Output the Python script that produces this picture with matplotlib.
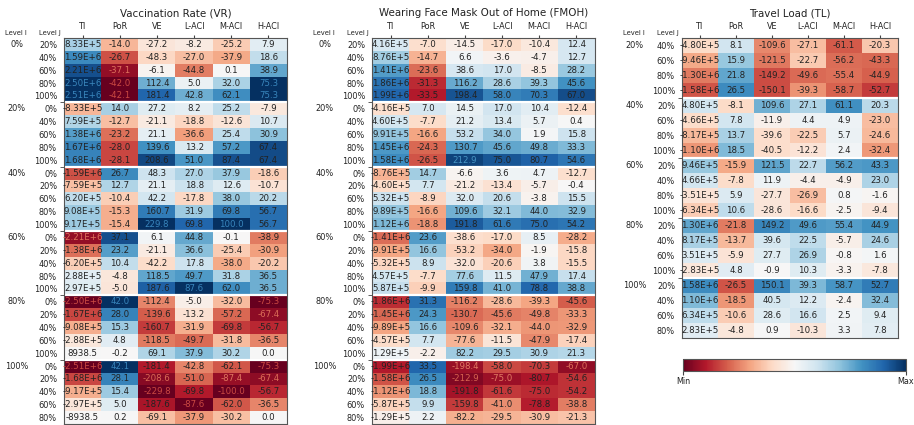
import numpy as np
import matplotlib
matplotlib.use("Agg")
import matplotlib.pyplot as plt
from matplotlib.colors import Normalize
from matplotlib.cm import ScalarMappable

metrics = ["TI", "PoR", "VE", "L-ACI", "M-ACI", "H-ACI"]
levels = ["0%", "20%", "40%", "60%", "80%", "100%"]
tl_levels = ["20%", "40%", "60%", "80%", "100%"]

# Vaccination Rate (VR): rows go level I group by group, level J inside
vr_ti = [8.33e5, 1.59e6, 2.21e6, 2.50e6, 2.51e6,
         -8.33e5, 7.59e5, 1.38e6, 1.67e6, 1.68e6,
         -1.59e6, -7.59e5, 6.20e5, 9.08e5, 9.17e5,
         -2.21e6, -1.38e6, -6.20e5, 2.88e5, 2.97e5,
         -2.50e6, -1.67e6, -9.08e5, -2.88e5, 8938.5,
         -2.51e6, -1.68e6, -9.17e5, -2.97e5, -8938.5]
vr_por = [-14.0, -26.7, -37.1, -42.0, -42.1,
          14.0, -12.7, -23.2, -28.0, -28.1,
          26.7, 12.7, -10.4, -15.3, -15.4,
          37.1, 23.2, 10.4, -4.8, -5.0,
          42.0, 28.0, 15.3, 4.8, -0.2,
          42.1, 28.1, 15.4, 5.0, 0.2]
vr_ve = [-27.2, -48.3, -6.1, 112.4, 181.4,
         27.2, -21.1, 21.1, 139.6, 208.6,
         48.3, 21.1, 42.2, 160.7, 229.8,
         6.1, -21.1, -42.2, 118.5, 187.6,
         -112.4, -139.6, -160.7, -118.5, 69.1,
         -181.4, -208.6, -229.8, -187.6, -69.1]
vr_laci = [-8.2, -27.0, -44.8, 5.0, 42.8,
           8.2, -18.8, -36.6, 13.2, 51.0,
           27.0, 18.8, -17.8, 31.9, 69.8,
           44.8, 36.6, 17.8, 49.7, 87.6,
           -5.0, -13.2, -31.9, -49.7, 37.9,
           -42.8, -51.0, -69.8, -87.6, -37.9]
vr_maci = [-25.2, -37.9, 0.1, 32.0, 62.1,
           25.2, -12.6, 25.4, 57.2, 87.4,
           37.9, 12.6, 38.0, 69.8, 100.0,
           -0.1, -25.4, -38.0, 31.8, 62.0,
           -32.0, -57.2, -69.8, -31.8, 30.2,
           -62.1, -87.4, -100.0, -62.0, -30.2]
vr_haci = [7.9, 18.6, 38.9, 75.3, 75.3,
           -7.9, 10.7, 30.9, 67.4, 67.4,
           -18.6, -10.7, 20.2, 56.7, 56.7,
           -38.9, -30.9, -20.2, 36.5, 36.5,
           -75.3, -67.4, -56.7, -36.5, 0.0,
           -75.3, -67.4, -56.7, -36.5, 0.0]

# Wearing Face Mask Out of Home (FMOH)
fm_ti = [4.16e5, 8.76e5, 1.41e6, 1.86e6, 1.99e6,
         -4.16e5, 4.60e5, 9.91e5, 1.45e6, 1.58e6,
         -8.76e5, -4.60e5, 5.32e5, 9.89e5, 1.12e6,
         -1.41e6, -9.91e5, -5.32e5, 4.57e5, 5.87e5,
         -1.86e6, -1.45e6, -9.89e5, -4.57e5, 1.29e5,
         -1.99e6, -1.58e6, -1.12e6, -5.87e5, -1.29e5]
fm_por = [-7.0, -14.7, -23.6, -31.3, -33.5,
          7.0, -7.7, -16.6, -24.3, -26.5,
          14.7, 7.7, -8.9, -16.6, -18.8,
          23.6, 16.6, 8.9, -7.7, -9.9,
          31.3, 24.3, 16.6, 7.7, -2.2,
          33.5, 26.5, 18.8, 9.9, 2.2]
fm_ve = [-14.5, 6.6, 38.6, 116.2, 198.4,
         14.5, 21.2, 53.2, 130.7, 212.9,
         -6.6, -21.2, 32.0, 109.6, 191.8,
         -38.6, -53.2, -32.0, 77.6, 159.8,
         -116.2, -130.7, -109.6, -77.6, 82.2,
         -198.4, -212.9, -191.8, -159.8, -82.2]
fm_laci = [-17.0, -3.6, 17.0, 28.6, 58.0,
           17.0, 13.4, 34.0, 45.6, 75.0,
           3.6, -13.4, 20.6, 32.1, 61.6,
           -17.0, -34.0, -20.6, 11.5, 41.0,
           -28.6, -45.6, -32.1, -11.5, 29.5,
           -58.0, -75.0, -61.6, -41.0, -29.5]
fm_maci = [-10.4, -4.7, -8.5, 39.3, 70.3,
           10.4, 5.7, 1.9, 49.8, 80.7,
           4.7, -5.7, -3.8, 44.0, 75.0,
           8.5, -1.9, 3.8, 47.9, 78.8,
           -39.3, -49.8, -44.0, -47.9, 30.9,
           -70.3, -80.7, -75.0, -78.8, -30.9]
fm_haci = [12.4, 12.7, 28.2, 45.6, 67.0,
           -12.4, 0.4, 15.8, 33.3, 54.6,
           -12.7, -0.4, 15.5, 32.9, 54.2,
           -28.2, -15.8, -15.5, 17.4, 38.8,
           -45.6, -33.3, -32.9, -17.4, 21.3,
           -67.0, -54.6, -54.2, -38.8, -21.3]

# Travel Load (TL)
tl_ti = [-4.80e5, -9.46e5, -1.30e6, -1.58e6,
         4.80e5, -4.66e5, -8.17e5, -1.10e6,
         9.46e5, 4.66e5, -3.51e5, -6.34e5,
         1.30e6, 8.17e5, 3.51e5, -2.83e5,
         1.58e6, 1.10e6, 6.34e5, 2.83e5]
tl_por = [8.1, 15.9, 21.8, 26.5,
          -8.1, 7.8, 13.7, 18.5,
          -15.9, -7.8, 5.9, 10.6,
          -21.8, -13.7, -5.9, 4.8,
          -26.5, -18.5, -10.6, -4.8]
tl_ve = [-109.6, -121.5, -149.2, -150.1,
         109.6, -11.9, -39.6, -40.5,
         121.5, 11.9, -27.7, -28.6,
         149.2, 39.6, 27.7, -0.9,
         150.1, 40.5, 28.6, 0.9]
tl_laci = [-27.1, -22.7, -49.6, -39.3,
           27.1, 4.4, -22.5, -12.2,
           22.7, -4.4, -26.9, -16.6,
           49.6, 22.5, 26.9, 10.3,
           39.3, 12.2, 16.6, -10.3]
tl_maci = [-61.1, -56.2, -55.4, -58.7,
           61.1, 4.9, 5.7, 2.4,
           56.2, -4.9, 0.8, -2.5,
           55.4, -5.7, -0.8, -3.3,
           58.7, -2.4, 2.5, 3.3]
tl_haci = [-20.3, -43.3, -44.9, -52.7,
           20.3, -23.0, -24.6, -32.4,
           43.3, 23.0, -1.6, -9.4,
           44.9, 24.6, 1.6, -7.8,
           52.7, 32.4, 9.4, 7.8]

vr = np.column_stack([vr_ti, vr_por, vr_ve, vr_laci, vr_maci, vr_haci])
fm = np.column_stack([fm_ti, fm_por, fm_ve, fm_laci, fm_maci, fm_haci])
tl = np.column_stack([tl_ti, tl_por, tl_ve, tl_laci, tl_maci, tl_haci])

# each metric gets its own colour scale, shared by the three factors
allv = np.vstack([vr, fm, tl])
col_lo = allv.min(axis=0)
col_hi = allv.max(axis=0)

cmap = plt.get_cmap("RdBu")
W, H = 914, 425
fig = plt.figure(figsize=(W / 100, H / 100), dpi=100)


def px_axes(x0, y0, w, h):
    return fig.add_axes([x0 / W, 1 - (y0 + h) / H, w / W, h / H])


def fmt(v, j):
    if j == 0 and abs(v) >= 1e5:
        m, e = f"{v:.2E}".split("E")
        return f"{m}E{int(e):+d}"
    return f"{v:.1f}"


def draw_panel(ax, title, data, group_levels, all_levels):
    groups = [(gi, [lj for lj in all_levels if lj != gi]) for gi in group_levels]
    rows = [lj for _, js in groups for lj in js]
    gsize = len(groups[0][1])
    n = len(rows)

    z = (data - col_lo) / (col_hi - col_lo)
    ax.imshow(z, cmap=cmap, vmin=0, vmax=1, aspect="auto", interpolation="nearest")

    for i in range(n):
        for j in range(data.shape[1]):
            c = cmap(z[i, j])
            lum = 0.299 * c[0] + 0.587 * c[1] + 0.114 * c[2]
            if lum < 0.24:
                tc = cmap(z[i, j] + 0.17 if z[i, j] < 0.5 else z[i, j] - 0.17)
            else:
                tc = "#222222"
            ax.text(j, i, fmt(data[i, j], j), ha="center", va="center",
                    fontsize=6.2, color=tc)

    for k in range(1, len(groups)):
        ax.axhline(k * gsize - 0.5, color="white", lw=1.6)

    ax.set_xticks(range(len(metrics)))
    ax.set_xticklabels(metrics)
    ax.xaxis.tick_top()
    ax.tick_params(axis="x", length=2, pad=3, labelsize=5.9, color="#444444",
                   labelcolor="#222222")
    ax.set_yticks(range(n))
    ax.set_yticklabels(rows)
    ax.tick_params(axis="y", length=0, pad=5, labelsize=5.9, labelcolor="#222222")
    ax.set_yticks([k * gsize - 0.5 for k in range(1, len(groups))], minor=True)
    ax.tick_params(axis="y", which="minor", length=3, color="#444444")
    for s in ax.spines.values():
        s.set_edgecolor("#555555")
        s.set_linewidth(0.8)

    for k, (gi, _) in enumerate(groups):
        ax.annotate(gi, xy=(0, k * gsize), xycoords=("axes fraction", "data"),
                    xytext=(-34, 0), textcoords="offset points",
                    ha="center", va="center", fontsize=5.9, color="#222222")
    ax.annotate("Level I", xy=(0, 1), xycoords="axes fraction", xytext=(-35, 3.6),
                textcoords="offset points", ha="center", va="center",
                fontsize=4.9, color="#222222")
    ax.annotate("Level J", xy=(0, 1), xycoords="axes fraction", xytext=(-10, 3.6),
                textcoords="offset points", ha="center", va="center",
                fontsize=4.9, color="#222222")
    ax.set_title(title, fontsize=7.4, y=1.0, pad=15.5, color="#222222")


ax1 = px_axes(64, 38, 223, 386)
draw_panel(ax1, "Vaccination Rate (VR)", vr, levels, levels)

ax2 = px_axes(372, 38, 223, 386)
draw_panel(ax2, "Wearing Face Mask Out of Home (FMOH)", fm, levels, levels)

ax3 = px_axes(682, 38, 216, 300)
draw_panel(ax3, "Travel Load (TL)", tl, tl_levels, tl_levels)

cax = px_axes(683, 359, 223, 12)
cb = fig.colorbar(ScalarMappable(norm=Normalize(0, 1), cmap=cmap), cax=cax,
                  orientation="horizontal")
cb.set_ticks([0, 1])
cb.set_ticklabels(["Min", "Max"])
cb.ax.tick_params(labelsize=5.8, length=3, pad=1.5, color="#444444",
                  labelcolor="#222222")
cb.outline.set_edgecolor("#555555")
cb.outline.set_linewidth(0.8)

fig.savefig("out.png", dpi=100)
